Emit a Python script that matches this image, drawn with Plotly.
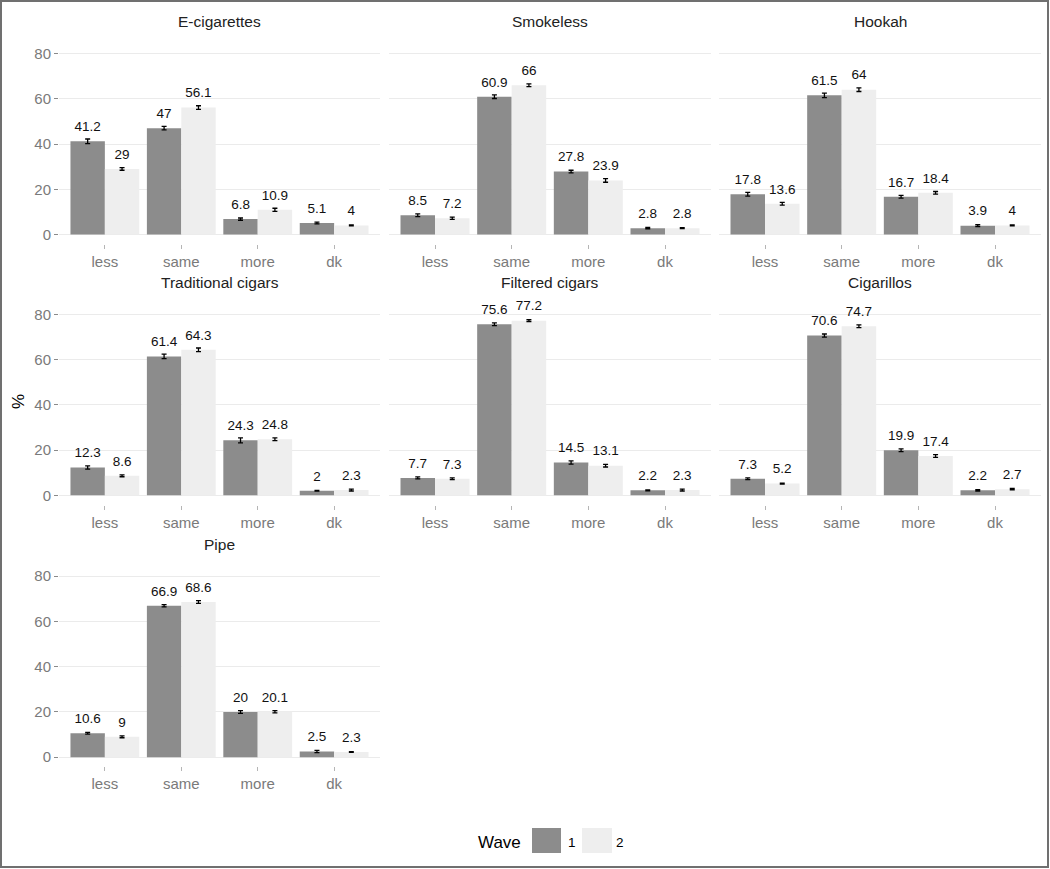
import plotly.graph_objects as go

categories = ["less", "same", "more", "dk"]
products = ["E-cigarettes", "Smokeless", "Hookah", "Traditional cigars",
            "Filtered cigars", "Cigarillos", "Pipe"]

wave1 = {
    "E-cigarettes": [41.2, 47, 6.8, 5.1],
    "Smokeless": [8.5, 60.9, 27.8, 2.8],
    "Hookah": [17.8, 61.5, 16.7, 3.9],
    "Traditional cigars": [12.3, 61.4, 24.3, 2],
    "Filtered cigars": [7.7, 75.6, 14.5, 2.2],
    "Cigarillos": [7.3, 70.6, 19.9, 2.2],
    "Pipe": [10.6, 66.9, 20, 2.5],
}
wave2 = {
    "E-cigarettes": [29, 56.1, 10.9, 4],
    "Smokeless": [7.2, 66, 23.9, 2.8],
    "Hookah": [13.6, 64, 18.4, 4],
    "Traditional cigars": [8.6, 64.3, 24.8, 2.3],
    "Filtered cigars": [7.3, 77.2, 13.1, 2.3],
    "Cigarillos": [5.2, 74.7, 17.4, 2.7],
    "Pipe": [9, 68.6, 20.1, 2.3],
}
err1 = {
    "E-cigarettes": [1.0, 0.8, 0.5, 0.4],
    "Smokeless": [0.6, 0.8, 0.6, 0.3],
    "Hookah": [0.8, 1.0, 0.6, 0.4],
    "Traditional cigars": [0.7, 1.0, 1.1, 0.2],
    "Filtered cigars": [0.4, 0.6, 0.7, 0.2],
    "Cigarillos": [0.4, 0.7, 0.6, 0.3],
    "Pipe": [0.4, 0.5, 0.6, 0.5],
}
err2 = {
    "E-cigarettes": [0.6, 0.8, 0.7, 0.2],
    "Smokeless": [0.5, 0.6, 0.8, 0.2],
    "Hookah": [0.6, 0.8, 0.6, 0.2],
    "Traditional cigars": [0.4, 0.8, 0.6, 0.4],
    "Filtered cigars": [0.4, 0.4, 0.6, 0.4],
    "Cigarillos": [0.2, 0.6, 0.6, 0.3],
    "Pipe": [0.4, 0.6, 0.5, 0.2],
}
y_ticks = [0, 20, 40, 60, 80]
waves = ["1", "2"]

W, H = 1050, 869
COL_PX = [(59, 380), (389, 711), (719, 1041)]
ROW_ZERO_PX = [234.5, 495.3, 757.2]
PX_PER_UNIT = 181 / 80
Y_RANGE = [-4.1, 86.5]

DARK = "#8c8c8c"
LIGHT = "#eeeeee"
TICK_COLOR = "#7a7a7a"
FONT = "Liberation Sans, Arial, sans-serif"

fig = go.Figure()
layout = dict(
    width=W, height=H,
    margin=dict(l=0, r=0, t=0, b=0),
    paper_bgcolor="white", plot_bgcolor="white",
    barmode="group", bargap=0.1, bargroupgap=0,
    showlegend=False,
    font=dict(family=FONT),
)
annotations = []
shapes = []

pos = list(range(len(categories)))
half = 0.9 / 4

for i, prod in enumerate(products):
    r, c = divmod(i, 3)
    n = "" if i == 0 else str(i + 1)
    xa, ya = "x" + n, "y" + n
    x0p, x1p = COL_PX[c]
    zero = ROW_ZERO_PX[r]
    top_px = zero - Y_RANGE[1] * PX_PER_UNIT
    bot_px = zero - Y_RANGE[0] * PX_PER_UNIT
    layout["xaxis" + n] = dict(
        domain=[x0p / W, x1p / W], anchor=ya, range=[-0.6, 3.6],
        tickmode="array", tickvals=pos, ticktext=categories,
        showgrid=False, zeroline=False, showline=False,
        ticks="outside", ticklen=4, tickwidth=1, tickcolor="#b5b5b5",
        tickfont=dict(size=15, color=TICK_COLOR, family=FONT),
        automargin=False, fixedrange=True,
    )
    layout["yaxis" + n] = dict(
        domain=[1 - bot_px / H, 1 - top_px / H], anchor=xa, range=Y_RANGE,
        tickmode="array", tickvals=y_ticks,
        showticklabels=(c == 0),
        ticks="outside" if c == 0 else "", ticklen=4, tickwidth=1, tickcolor="#8a8a8a",
        showgrid=True, gridcolor="#ebebeb", gridwidth=1.4,
        zeroline=False, showline=False,
        tickfont=dict(size=15, color=TICK_COLOR, family=FONT),
        automargin=False, fixedrange=True,
    )
    for vals, errs, color, wname, sign in [
        (wave1[prod], err1[prod], DARK, waves[0], -1),
        (wave2[prod], err2[prod], LIGHT, waves[1], 1),
    ]:
        fig.add_trace(go.Bar(
            x=pos, y=vals, xaxis=xa, yaxis=ya, name=wname,
            marker=dict(color=color, line=dict(width=0)),
            error_y=dict(type="data", array=errs, visible=True,
                         color="black", thickness=1.3, width=2.5),
            hoverinfo="skip",
        ))
        fig.add_trace(go.Scatter(
            x=[p + sign * half for p in pos],
            y=[v + 6 for v in vals],
            text=[f"{v:g}" for v in vals],
            mode="text", textposition="middle center",
            textfont=dict(size=13.5, color="#111111", family=FONT),
            xaxis=xa, yaxis=ya, hoverinfo="skip",
        ))
    annotations.append(dict(
        text=prod, xref=xa + " domain", x=0.5, yref="paper",
        y=1 - (top_px - 17) / H, showarrow=False,
        font=dict(size=15.5, color="#222222", family=FONT),
        xanchor="center", yanchor="middle",
    ))

# y axis title
annotations.append(dict(
    text="%", xref="paper", yref="paper", x=18 / W, y=1 - 402 / H,
    textangle=-90, showarrow=False, xanchor="center", yanchor="middle",
    font=dict(size=17, color="black", family=FONT),
))

# legend (manual)
annotations.append(dict(
    text="Wave", xref="paper", yref="paper", x=499 / W, y=1 - 842 / H,
    showarrow=False, xanchor="center", yanchor="middle",
    font=dict(size=17, color="black", family=FONT),
))
for (kx0, kx1, col, lab, lx) in [(532, 561, DARK, waves[0], 572), (582, 612, LIGHT, waves[1], 620)]:
    shapes.append(dict(type="rect", xref="paper", yref="paper",
                       x0=kx0 / W, x1=kx1 / W, y0=1 - 853 / H, y1=1 - 828 / H,
                       fillcolor=col, line=dict(width=0)))
    annotations.append(dict(
        text=lab, xref="paper", yref="paper", x=lx / W, y=1 - 842 / H,
        showarrow=False, xanchor="center", yanchor="middle",
        font=dict(size=13.5, color="black", family=FONT),
    ))

# outer frame
shapes.append(dict(type="rect", xref="paper", yref="paper",
                   x0=1 / W, x1=1048 / W, y0=1 - 867 / H, y1=1 - 1 / H,
                   fillcolor="rgba(0,0,0,0)", line=dict(color="#707070", width=2)))

layout["annotations"] = annotations
layout["shapes"] = shapes
fig.update_layout(**layout)
fig.write_html("out.html", config={"displayModeBar": False},
               post_script="document.body.style.margin='0';document.body.style.overflow='hidden';")
